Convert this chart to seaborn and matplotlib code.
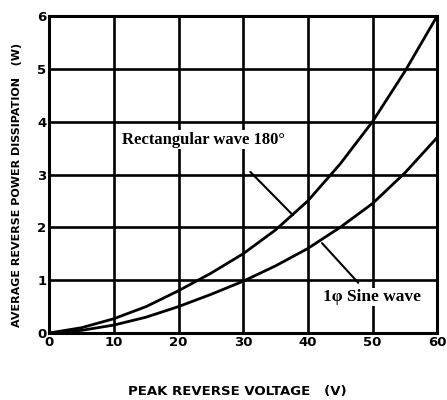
import matplotlib
matplotlib.use("Agg")
import matplotlib.pyplot as plt
import pandas as pd
import seaborn as sns

# values
voltage = [0, 5, 10, 15, 20, 25, 30, 35, 40, 45, 50, 55, 60]
rect_power = [0, 0.1, 0.27, 0.5, 0.8, 1.13, 1.5, 1.95, 2.5, 3.2, 4.0, 4.95, 6.0]
sine_power = [0, 0.05, 0.15, 0.3, 0.5, 0.73, 0.98, 1.27, 1.6, 2.0, 2.45, 3.03, 3.7]
x_ticks = [0, 10, 20, 30, 40, 50, 60]
y_ticks = [0, 1, 2, 3, 4, 5, 6]

df = pd.DataFrame({
    "voltage": voltage * 2,
    "power": rect_power + sine_power,
    "wave": ["rect"] * len(voltage) + ["sine"] * len(voltage),
})

sns.set_theme(style="white")
plt.rcParams["font.family"] = ["DejaVu Sans"]
plt.rcParams["text.color"] = "black"

fig = plt.figure(figsize=(4.47, 4.0), dpi=100)
ax = fig.add_axes([0.110, 0.1675, 0.868, 0.7925])

sns.lineplot(data=df, x="voltage", y="power", units="wave", estimator=None,
             color="black", linewidth=2.0, ax=ax, legend=False)

ax.set_xlim(0, 60)
ax.set_ylim(0, 6)
ax.set_xticks(x_ticks)
ax.set_yticks(y_ticks)
ax.grid(True, color="black", linewidth=1.9)
for s in ax.spines.values():
    s.set_color("black")
    s.set_linewidth(2.2)
ax.tick_params(axis="both", length=0, pad=2, labelsize=9.5, colors="black")
for lab in ax.get_xticklabels() + ax.get_yticklabels():
    lab.set_fontweight("bold")

ax.set_xlabel("")
ax.set_ylabel("")
fig.text(237 / 447, 1 - 392 / 400, "PEAK REVERSE VOLTAGE   (V)", fontsize=9.5,
         fontweight="bold", ha="center", va="center", color="black")
fig.text(17 / 447, 1 - 185 / 400, "AVERAGE REVERSE POWER DISSIPATION   (W)",
         fontsize=8, fontweight="bold", rotation=90, ha="center", va="center",
         color="black")

serif = ["Liberation Serif", "DejaVu Serif"]
ax.text(11.3, 3.66, "Rectangular wave 180°", family=serif, fontsize=12,
        fontweight="bold", va="center", ha="left", color="black",
        bbox=dict(facecolor="white", edgecolor="none", pad=1))
ax.plot([31.1, 37.7], [3.05, 2.23], color="black", linewidth=1.5)
ax.text(42.3, 0.68, "1φ Sine wave", family=serif, fontsize=12.5,
        fontweight="bold", va="center", ha="left", color="black",
        bbox=dict(facecolor="white", edgecolor="none", pad=1))
ax.plot([47.8, 42.2], [0.95, 1.7], color="black", linewidth=1.5)

fig.savefig("out.png", dpi=100)
